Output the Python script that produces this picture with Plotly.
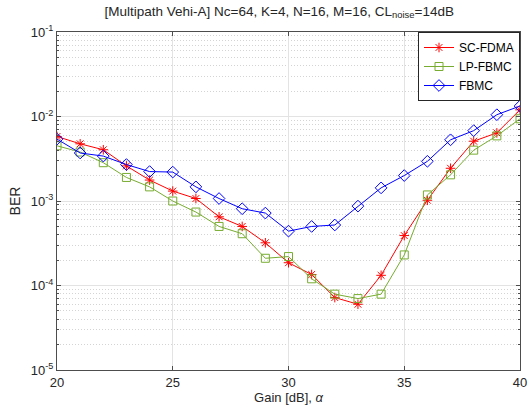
import numpy as np
import plotly.graph_objects as go

gain = list(range(20, 41))
sc_fdma = [5.8e-3, 4.75e-3, 4.04e-3, 2.6e-3, 1.77e-3, 1.31e-3, 1.07e-3, 6.5e-4, 5.0e-4, 3.2e-4,
           1.86e-4, 1.35e-4, 7.2e-5, 6.0e-5, 1.32e-4, 3.9e-4, 1.02e-3, 2.44e-3, 5.1e-3, 6.4e-3, 1.2e-2]
lp_fbmc = [4.5e-3, 3.8e-3, 2.84e-3, 1.9e-3, 1.47e-3, 1.0e-3, 7.4e-4, 5.0e-4, 4.1e-4, 2.1e-4,
           2.2e-4, 1.2e-4, 7.9e-5, 7.0e-5, 7.9e-5, 2.3e-4, 1.18e-3, 2.04e-3, 4.0e-3, 5.9e-3, 9.4e-3]
fbmc = [5.4e-3, 3.7e-3, 3.4e-3, 2.7e-3, 2.23e-3, 2.2e-3, 1.47e-3, 1.07e-3, 8.1e-4, 7.2e-4,
        4.4e-4, 5.0e-4, 5.2e-4, 8.7e-4, 1.43e-3, 2.0e-3, 2.95e-3, 5.3e-3, 6.8e-3, 1.05e-2, 1.33e-2]

x_ticks = [20, 25, 30, 35, 40]
y_exps = [-5, -4, -3, -2, -1]
y_tickvals = [10.0 ** e for e in y_exps]
y_ticktext = ["10<sup>%d</sup>" % e for e in y_exps]
y_minor = [m * 10.0 ** e for e in y_exps[:-1] for m in range(2, 10)]

font = "Liberation Sans, Arial, Helvetica, sans-serif"
axcol = "#4d4d4d"

fig = go.Figure()
fig.add_trace(go.Scatter(x=gain, y=sc_fdma, name="SC-FDMA", mode="lines+markers",
                         line=dict(color="#ff0000", width=1),
                         marker=dict(symbol="asterisk-open", size=8, color="#ff0000",
                                     line=dict(color="#ff0000", width=1))))
fig.add_trace(go.Scatter(x=gain, y=lp_fbmc, name="LP-FBMC", mode="lines+markers",
                         line=dict(color="#77ac30", width=1),
                         marker=dict(symbol="square-open", size=8, color="#77ac30",
                                     line=dict(color="#77ac30", width=1))))
fig.add_trace(go.Scatter(x=gain, y=fbmc, name="FBMC", mode="lines+markers",
                         line=dict(color="#0000ff", width=1),
                         marker=dict(symbol="diamond-open", size=9, color="#0000ff",
                                     line=dict(color="#0000ff", width=1))))

fig.update_layout(
    width=531, height=411,
    margin=dict(l=57, r=11, t=32, b=41, autoexpand=False),
    paper_bgcolor="white", plot_bgcolor="white",
    font=dict(family=font, size=13, color="#262626"),
    title=dict(text="[Multipath Vehi-A] Nc=64, K=4, N=16, M=16, CL<sub>noise</sub>=14dB",
               xref="paper", x=0.48, xanchor="center", y=0.985, yanchor="top",
               font=dict(size=13.5, color="#262626")),
    showlegend=True,
    legend=dict(x=1, y=1, xanchor="right", yanchor="top",
                bgcolor="white", bordercolor="#262626", borderwidth=1,
                font=dict(size=12, color="#000000"),
                tracegroupgap=0, itemwidth=30),
)
fig.update_xaxes(
    range=[20, 40], tickvals=x_ticks, ticks="inside", ticklen=4, tickcolor=axcol,
    showline=True, linecolor=axcol, linewidth=1, mirror="ticks", automargin=False,
    showgrid=True, gridcolor="#e3e3e3", gridwidth=1, zeroline=False,
    tickfont=dict(size=13, color="#262626"),
    title=dict(text="Gain [dB], <i>α</i>", font=dict(size=13, color="#262626"), standoff=3),
)
fig.update_yaxes(
    type="log", range=[-5, -1], tickvals=y_tickvals, ticktext=y_ticktext,
    ticks="inside", ticklen=4, tickcolor=axcol, automargin=False,
    showline=True, linecolor=axcol, linewidth=1, mirror="ticks",
    showgrid=True, gridcolor="#e3e3e3", gridwidth=1, zeroline=False,
    tickfont=dict(size=13, color="#262626"),
    minor=dict(tickvals=y_minor, ticks="inside", ticklen=2, tickcolor=axcol,
               showgrid=True, gridcolor="#d4d4d4", griddash="1px,2px", gridwidth=1),
    title=dict(text="BER", font=dict(size=14, color="#262626"), standoff=6),
)

fig.write_html("out.html")
